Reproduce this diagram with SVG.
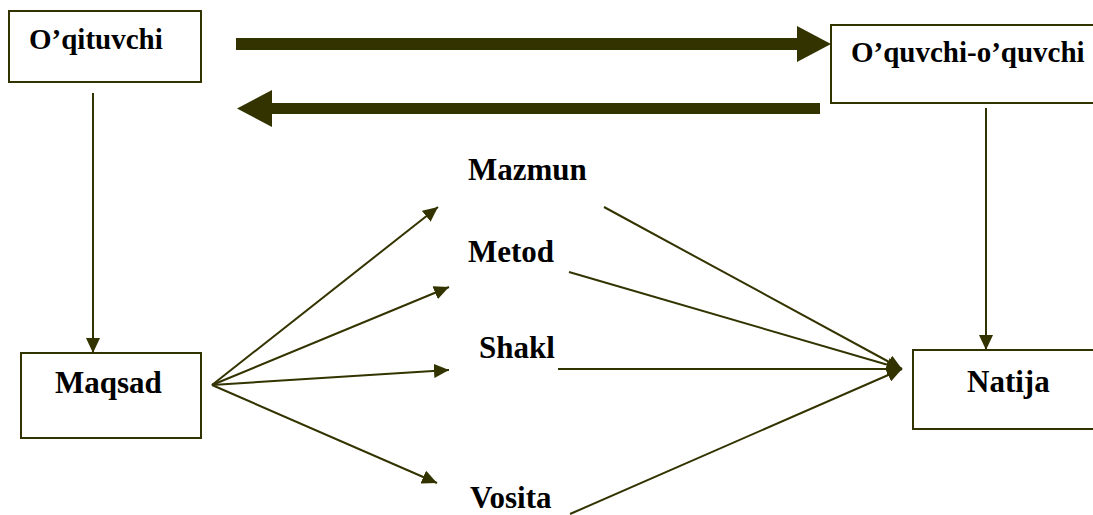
<svg xmlns="http://www.w3.org/2000/svg" width="1093" height="515" viewBox="0 0 1093 515">
<style>
.box{fill:#fff;stroke:#333300;stroke-width:2}
.t{font-family:"Liberation Serif","Times New Roman",serif;font-weight:bold;fill:#000}
.ln{stroke:#333300;stroke-width:2;fill:none;marker-end:url(#ah)}
.big{fill:#333300}
</style>
<defs>
<marker id="ah" markerUnits="userSpaceOnUse" markerWidth="16" markerHeight="14" refX="15" refY="7" orient="auto">
<path d="M0,0 L15,7 L0,14 Z" fill="#333300"/>
</marker>
</defs>
<g id="n-oqituvchi"><rect class="box" x="9" y="11" width="192" height="71"/><text class="t" x="29" y="49" font-size="29">O’qituvchi</text></g>
<g id="n-oquvchi"><rect class="box" x="831" y="25" width="270" height="78"/><text class="t" x="851" y="62" font-size="29">O’quvchi-o’quvchi</text></g>
<g id="n-maqsad"><rect class="box" x="21" y="353" width="180" height="85"/><text class="t" x="55" y="393" font-size="31">Maqsad</text></g>
<g id="n-natija"><rect class="box" x="913" y="350" width="190" height="79"/><text class="t" x="967" y="392" font-size="31">Natija</text></g>
<g id="n-mazmun"><text class="t" x="468" y="180" font-size="31">Mazmun</text></g>
<g id="n-metod"><text class="t" x="468" y="262" font-size="31">Metod</text></g>
<g id="n-shakl"><text class="t" x="479" y="358" font-size="31">Shakl</text></g>
<g id="n-vosita"><text class="t" x="470" y="508" font-size="31">Vosita</text></g>
<g id="connectors">
<path class="big" d="M236,38 L797,38 L797,26 L831,44 L797,62 L797,50 L236,50 Z"/>
<path class="big" d="M820,103 L272,103 L272,90 L237,108.5 L272,127 L272,114 L820,114 Z"/>
<line class="ln" x1="93" y1="93" x2="93" y2="353"/>
<line class="ln" x1="986" y1="108" x2="986" y2="350"/>
<line class="ln" x1="212" y1="385" x2="438" y2="207"/>
<line class="ln" x1="212" y1="385" x2="449" y2="287"/>
<line class="ln" x1="212" y1="385" x2="449" y2="370"/>
<line class="ln" x1="212" y1="385" x2="437" y2="483"/>
<line class="ln" x1="604" y1="207" x2="902" y2="369"/>
<line class="ln" x1="569" y1="272" x2="902" y2="369"/>
<line class="ln" x1="558" y1="369" x2="902" y2="369"/>
<line class="ln" x1="570" y1="514" x2="902" y2="369"/>
</g>
</svg>
